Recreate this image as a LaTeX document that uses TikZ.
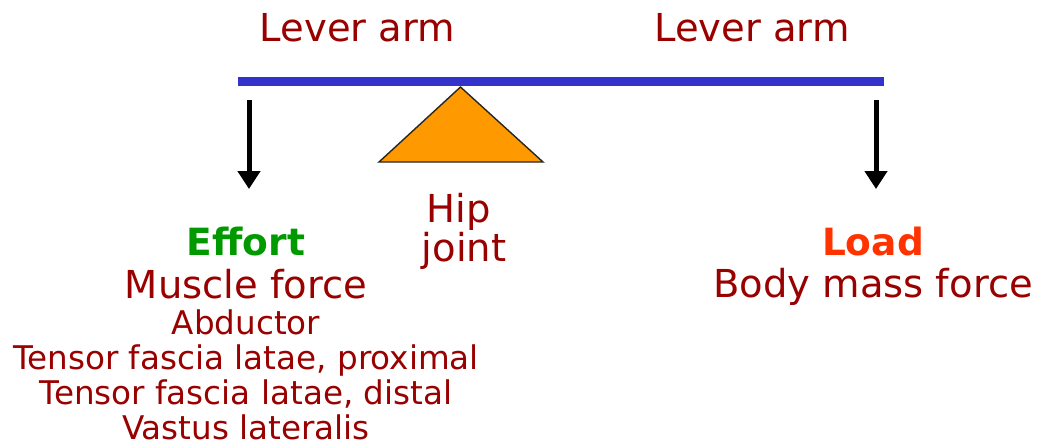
\documentclass[tikz,border=0pt]{standalone}
\usepackage{fontspec}
\setmainfont{DejaVu Sans}
\usetikzlibrary{arrows.meta}
\definecolor{txtred}{HTML}{990000}
\definecolor{effgreen}{HTML}{009900}
\definecolor{loadred}{HTML}{FF3300}
\definecolor{barblue}{HTML}{3333CC}
\definecolor{jointorange}{HTML}{FF9900}
\tikzset{
  big/.style={inner sep=0pt, anchor=base, text=txtred, font=\fontsize{38.5}{38.5}\selectfont},
  small/.style={inner sep=0pt, anchor=base, text=txtred, text depth=0pt, font=\fontsize{32.6}{32.6}\selectfont},
  head/.style={inner sep=0pt, anchor=base, font=\fontsize{37.5}{37.5}\selectfont\bfseries},
  force/.style={line width=5pt, -{Triangle[width=22pt,length=18pt]}},
}
\begin{document}
\begin{tikzpicture}[x=1pt,y=-1pt]
\useasboundingbox (0,0) rectangle (1037,445);
% lever bar
\coordinate (barL) at (238,81.5);
\coordinate (barR) at (884,81.5);
\draw[barblue, line width=9pt] (barL) -- (barR);
% fulcrum
\coordinate (apex) at (460.5,87);
\coordinate (baseL) at (379,162);
\coordinate (baseR) at (543,162);
\filldraw[fill=jointorange, draw=black!85, line width=1.4pt, line join=miter] (apex) -- (baseR) -- (baseL) -- cycle;
% force arrows
\coordinate (effTop) at (249,100);
\coordinate (effTip) at (249,189);
\coordinate (loadTop) at (876,100);
\coordinate (loadTip) at (876,189);
\draw[force] (effTop) -- (effTip);
\draw[force] (loadTop) -- (loadTip);
% labels
\node[big] (armL) at (357.5,41.7) {Lever arm};
\node[big] (armR) at (752,41.7) {Lever arm};
\node[big] (hip) at (459,222) {Hip};
\node[big] (joint) at (464,261) {joint};
\node[head, text=effgreen] (effort) at (246,255) {Effort};
\node[big] (muscle) at (246,298) {Muscle force};
\node[small] (abd) at (246,334.5) {Abductor};
\node[small] (tfp) at (246,369.5) {Tensor fascia latae, proximal};
\node[small] (tfd) at (246,404.5) {Tensor fascia latae, distal};
\node[small] (vl) at (246,439.5) {Vastus lateralis};
\node[head, text=loadred] (load) at (873,255) {Load};
\node[big] (body) at (873,297) {Body mass force};
\end{tikzpicture}
\end{document}
